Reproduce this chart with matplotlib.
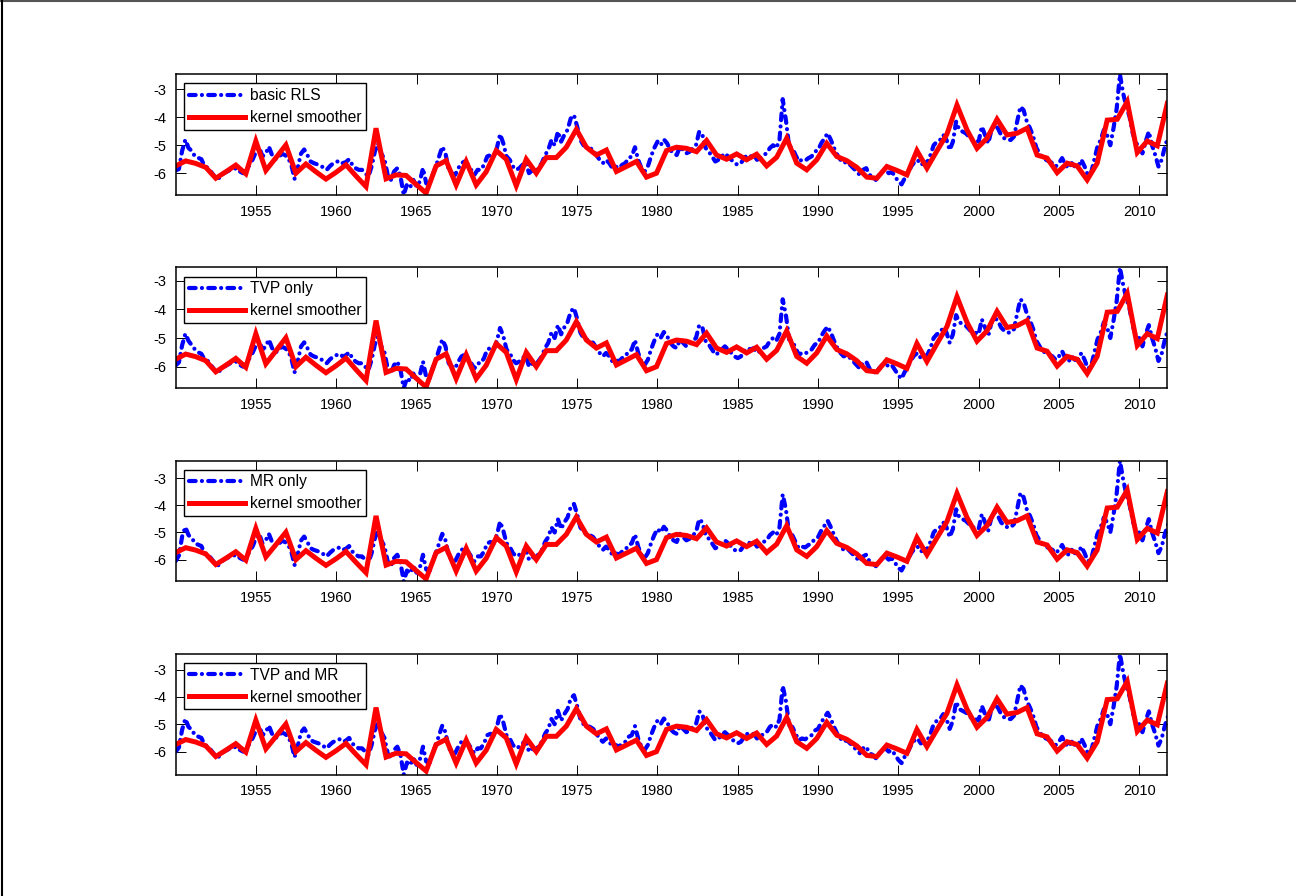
import numpy as np
import matplotlib
matplotlib.use("Agg")
import matplotlib.pyplot as plt
from matplotlib.lines import Line2D

plt.rcParams["font.family"] = ["Liberation Sans", "DejaVu Sans"]
plt.rcParams["axes.unicode_minus"] = False

# Kernel smoother: evaluated on an even grid from 1950.0 to 2011.75 (100 points)
smooth_start, smooth_end = 1950.0, 2011.75
smooth_vals = [
    -5.74, -5.56, -5.65, -5.79, -6.18, -5.95, -5.71, -6.02, -4.85, -5.90,
    -5.45, -4.99, -6.00, -5.67, -5.95, -6.21, -5.97, -5.70, -6.10, -6.48,
    -4.39, -6.20, -6.06, -6.08, -6.40, -6.71, -5.74, -5.55, -6.42, -5.58,
    -6.42, -5.95, -5.19, -5.50, -6.45, -5.50, -6.00, -5.44, -5.44, -5.07,
    -4.43, -5.07, -5.35, -5.17, -5.94, -5.76, -5.58, -6.14, -6.00, -5.19,
    -5.07, -5.11, -5.23, -4.83, -5.35, -5.50, -5.31, -5.52, -5.32, -5.74,
    -5.43, -4.75, -5.64, -5.88, -5.52, -4.93, -5.40, -5.55, -5.79, -6.14,
    -6.18, -5.76, -5.90, -6.06, -5.19, -5.82, -5.20, -4.60, -3.56, -4.45,
    -5.11, -4.75, -4.07, -4.63, -4.57, -4.39, -5.35, -5.46, -5.98, -5.64,
    -5.74, -6.24, -5.64, -4.10, -4.07, -3.44, -5.26, -4.85, -5.02, -3.50,
]

# Recursive estimates, sampled every 0.2 years from 1950.0 (one row = two years)
est_start, est_step = 1950.0, 0.2
basic_rls = [
    -5.90, -5.85, -5.20, -4.80, -5.10, -5.20, -5.40, -5.45, -5.50, -5.76,
    -5.80, -5.95, -6.10, -6.24, -6.10, -6.00, -5.94, -5.88, -5.85, -5.82,
    -5.94, -6.00, -5.90, -5.70, -5.50, -5.23, -5.07, -5.40, -5.30, -5.05,
    -5.35, -5.50, -5.45, -5.30, -5.35, -5.45, -5.70, -6.20, -5.80, -5.30,
    -5.15, -5.35, -5.58, -5.64, -5.68, -5.72, -5.80, -5.88, -5.75, -5.65,
    -5.60, -5.55, -5.64, -5.60, -5.50, -5.70, -5.82, -5.88, -5.88, -6.00,
    -6.12, -5.76, -5.23, -4.93, -5.29, -5.50, -6.06, -6.24, -5.94, -5.82,
    -6.12, -6.78, -6.40, -6.50, -6.24, -6.48, -6.30, -5.82, -6.36, -6.42,
    -6.06, -5.76, -5.40, -5.05, -5.29, -5.88, -6.00, -6.06, -5.82, -5.64,
    -5.58, -5.70, -5.88, -6.06, -5.88, -5.88, -5.70, -5.40, -5.35, -5.40,
    -5.10, -4.60, -4.93, -5.40, -5.52, -5.76, -5.88, -5.82, -5.70, -5.60,
    -6.00, -5.90, -5.94, -5.80, -5.64, -5.35, -5.17, -4.81, -5.00, -4.51,
    -4.87, -4.63, -4.45, -4.04, -3.92, -4.33, -4.81, -5.00, -5.05, -5.10,
    -5.17, -5.35, -5.52, -5.64, -5.52, -5.64, -5.82, -5.76, -5.82, -5.70,
    -5.64, -5.46, -5.40, -5.07, -5.52, -5.82, -5.94, -5.76, -5.40, -5.10,
    -4.87, -5.00, -4.79, -4.93, -5.17, -5.29, -5.35, -5.05, -5.17, -5.29,
    -5.23, -5.10, -5.00, -4.51, -4.63, -5.10, -5.23, -5.40, -5.58, -5.52,
    -5.40, -5.29, -5.40, -5.52, -5.64, -5.70, -5.64, -5.46, -5.35, -5.40,
    -5.35, -5.52, -5.46, -5.35, -5.29, -5.10, -5.00, -5.10, -4.81, -3.35,
    -4.10, -5.05, -5.10, -5.35, -5.58, -5.52, -5.55, -5.46, -5.40, -5.23,
    -5.17, -4.93, -4.75, -4.57, -4.81, -5.10, -5.35, -5.52, -5.64, -5.58,
    -5.70, -5.82, -5.94, -6.06, -5.88, -5.82, -6.06, -6.12, -6.24, -6.06,
    -5.94, -5.88, -6.00, -5.95, -6.12, -6.30, -6.40, -6.18, -6.00, -5.76,
    -5.60, -5.52, -5.70, -5.64, -5.60, -5.35, -5.00, -4.87, -4.81, -4.63,
    -4.81, -5.17, -4.87, -4.15, -4.45, -4.51, -4.57, -4.69, -4.81, -4.81,
    -4.87, -4.33, -4.63, -4.93, -4.45, -4.27, -4.39, -4.63, -4.75, -4.81,
    -4.81, -4.69, -4.15, -3.62, -3.74, -4.15, -4.39, -4.69, -5.10, -5.29,
    -5.46, -5.52, -5.58, -5.64, -5.76, -5.64, -5.46, -5.70, -5.82, -5.64,
    -5.76, -5.76, -5.52, -5.76, -6.06, -6.00, -5.52, -5.05, -4.81, -4.45,
    -4.63, -5.00, -4.39, -3.68, -2.46, -3.14, -3.62, -3.98, -4.57, -4.93,
    -5.00, -5.29, -4.87, -4.51, -5.00, -5.35, -5.76, -5.52, -5.05, -4.70,
]
tvp_only = [
    -5.95, -5.85, -5.25, -4.85, -5.10, -5.25, -5.40, -5.50, -5.55, -5.76,
    -5.80, -5.95, -6.10, -6.24, -6.10, -6.00, -5.94, -5.88, -5.85, -5.82,
    -5.94, -6.00, -5.90, -5.70, -5.50, -5.25, -5.10, -5.40, -5.30, -5.05,
    -5.35, -5.50, -5.45, -5.30, -5.35, -5.45, -5.70, -6.20, -5.80, -5.30,
    -5.15, -5.35, -5.58, -5.64, -5.68, -5.72, -5.80, -5.88, -5.75, -5.65,
    -5.60, -5.55, -5.64, -5.60, -5.50, -5.70, -5.82, -5.88, -5.88, -6.00,
    -6.12, -5.76, -5.23, -4.93, -5.29, -5.50, -6.06, -6.24, -5.94, -5.82,
    -6.12, -6.75, -6.40, -6.50, -6.24, -6.48, -6.30, -5.82, -6.36, -6.42,
    -6.06, -5.76, -5.40, -5.05, -5.29, -5.88, -6.00, -6.06, -5.82, -5.64,
    -5.58, -5.70, -5.88, -6.06, -5.88, -5.88, -5.70, -5.40, -5.35, -5.40,
    -5.10, -4.65, -4.93, -5.40, -5.52, -5.76, -5.88, -5.82, -5.70, -5.60,
    -6.00, -5.90, -5.94, -5.80, -5.64, -5.35, -5.17, -4.81, -5.00, -4.55,
    -4.87, -4.63, -4.45, -4.08, -3.95, -4.33, -4.81, -5.00, -5.05, -5.10,
    -5.17, -5.35, -5.52, -5.64, -5.52, -5.64, -5.82, -5.76, -5.82, -5.70,
    -5.64, -5.46, -5.40, -5.07, -5.52, -5.82, -5.94, -5.76, -5.40, -5.10,
    -4.87, -5.00, -4.79, -4.93, -5.17, -5.29, -5.35, -5.05, -5.17, -5.29,
    -5.23, -5.10, -5.00, -4.55, -4.63, -5.10, -5.23, -5.40, -5.58, -5.52,
    -5.40, -5.29, -5.40, -5.52, -5.64, -5.70, -5.64, -5.46, -5.35, -5.40,
    -5.35, -5.52, -5.46, -5.35, -5.29, -5.10, -5.00, -5.10, -4.85, -3.65,
    -4.20, -5.05, -5.10, -5.35, -5.58, -5.52, -5.55, -5.46, -5.40, -5.23,
    -5.17, -4.93, -4.75, -4.60, -4.81, -5.10, -5.35, -5.52, -5.64, -5.58,
    -5.70, -5.82, -5.94, -6.06, -5.88, -5.82, -6.06, -6.12, -6.24, -6.06,
    -5.94, -5.88, -6.00, -5.95, -6.12, -6.30, -6.42, -6.18, -6.00, -5.76,
    -5.60, -5.52, -5.70, -5.64, -5.60, -5.35, -5.00, -4.87, -4.81, -4.63,
    -4.81, -5.17, -4.87, -4.20, -4.45, -4.51, -4.57, -4.69, -4.81, -4.81,
    -4.87, -4.35, -4.63, -4.93, -4.45, -4.30, -4.39, -4.63, -4.75, -4.81,
    -4.81, -4.69, -4.15, -3.65, -3.76, -4.15, -4.39, -4.69, -5.10, -5.29,
    -5.46, -5.52, -5.58, -5.64, -5.76, -5.64, -5.46, -5.70, -5.82, -5.64,
    -5.76, -5.76, -5.52, -5.76, -6.06, -6.00, -5.52, -5.05, -4.81, -4.45,
    -4.63, -5.00, -4.40, -3.70, -2.54, -3.14, -3.62, -3.98, -4.57, -4.93,
    -5.00, -5.29, -4.87, -4.55, -5.00, -5.35, -5.80, -5.55, -5.05, -4.70,
]
mr_only = [
    -6.05, -5.85, -5.15, -4.80, -5.10, -5.20, -5.40, -5.45, -5.50, -5.76,
    -5.80, -5.95, -6.10, -6.24, -6.10, -6.00, -5.94, -5.88, -5.85, -5.82,
    -5.94, -6.00, -5.90, -5.70, -5.50, -5.20, -5.05, -5.40, -5.30, -5.05,
    -5.35, -5.50, -5.45, -5.30, -5.35, -5.45, -5.70, -6.20, -5.80, -5.30,
    -5.15, -5.35, -5.58, -5.64, -5.68, -5.72, -5.80, -5.88, -5.75, -5.65,
    -5.60, -5.55, -5.64, -5.60, -5.50, -5.70, -5.82, -5.88, -5.88, -6.00,
    -6.12, -5.76, -5.23, -4.90, -5.29, -5.50, -6.06, -6.24, -5.94, -5.82,
    -6.12, -6.80, -6.40, -6.50, -6.24, -6.48, -6.30, -5.82, -6.36, -6.42,
    -6.06, -5.76, -5.40, -5.05, -5.29, -5.88, -6.00, -6.06, -5.82, -5.64,
    -5.58, -5.70, -5.88, -6.06, -5.88, -5.88, -5.70, -5.40, -5.35, -5.40,
    -5.10, -4.60, -4.93, -5.40, -5.52, -5.76, -5.88, -5.82, -5.70, -5.60,
    -6.00, -5.90, -5.94, -5.80, -5.64, -5.35, -5.17, -4.81, -5.00, -4.51,
    -4.87, -4.63, -4.45, -4.06, -3.95, -4.33, -4.81, -5.00, -5.05, -5.10,
    -5.17, -5.35, -5.52, -5.64, -5.52, -5.64, -5.82, -5.76, -5.82, -5.70,
    -5.64, -5.46, -5.40, -5.07, -5.52, -5.82, -5.94, -5.76, -5.40, -5.10,
    -4.87, -5.00, -4.79, -4.93, -5.17, -5.29, -5.35, -5.05, -5.17, -5.29,
    -5.23, -5.10, -5.00, -4.51, -4.63, -5.10, -5.23, -5.40, -5.58, -5.52,
    -5.40, -5.29, -5.40, -5.52, -5.64, -5.70, -5.64, -5.46, -5.35, -5.40,
    -5.35, -5.52, -5.46, -5.35, -5.29, -5.10, -5.00, -5.10, -4.81, -3.60,
    -4.15, -5.05, -5.10, -5.35, -5.58, -5.52, -5.55, -5.46, -5.40, -5.23,
    -5.17, -4.93, -4.75, -4.57, -4.81, -5.10, -5.35, -5.52, -5.64, -5.58,
    -5.70, -5.82, -5.94, -6.06, -5.88, -5.82, -6.06, -6.12, -6.24, -6.06,
    -5.94, -5.88, -6.00, -5.95, -6.12, -6.30, -6.40, -6.18, -6.00, -5.76,
    -5.60, -5.52, -5.70, -5.64, -5.60, -5.35, -5.00, -4.87, -4.81, -4.63,
    -4.81, -5.17, -4.87, -4.15, -4.45, -4.51, -4.57, -4.69, -4.81, -4.81,
    -4.87, -4.33, -4.63, -4.93, -4.45, -4.27, -4.39, -4.63, -4.75, -4.81,
    -4.81, -4.69, -4.15, -3.55, -3.70, -4.15, -4.39, -4.69, -5.10, -5.29,
    -5.46, -5.52, -5.58, -5.64, -5.76, -5.64, -5.46, -5.70, -5.82, -5.64,
    -5.76, -5.76, -5.52, -5.76, -6.06, -6.00, -5.52, -5.05, -4.81, -4.45,
    -4.63, -5.00, -4.35, -3.55, -2.36, -3.05, -3.60, -3.98, -4.57, -4.93,
    -5.00, -5.29, -4.87, -4.51, -5.00, -5.35, -5.76, -5.52, -5.05, -4.70,
]
tvp_and_mr = [
    -6.00, -5.85, -5.20, -4.80, -5.10, -5.20, -5.40, -5.45, -5.50, -5.76,
    -5.80, -5.95, -6.10, -6.24, -6.10, -6.00, -5.94, -5.88, -5.85, -5.82,
    -5.94, -6.00, -5.90, -5.70, -5.50, -5.23, -5.07, -5.40, -5.30, -5.05,
    -5.35, -5.50, -5.45, -5.30, -5.35, -5.45, -5.70, -6.20, -5.80, -5.30,
    -5.15, -5.35, -5.58, -5.64, -5.68, -5.72, -5.80, -5.88, -5.75, -5.65,
    -5.60, -5.55, -5.64, -5.60, -5.50, -5.70, -5.82, -5.88, -5.88, -6.00,
    -6.12, -5.76, -5.23, -4.93, -5.29, -5.50, -6.06, -6.24, -5.94, -5.82,
    -6.12, -6.84, -6.40, -6.50, -6.24, -6.48, -6.30, -5.82, -6.36, -6.42,
    -6.06, -5.76, -5.40, -5.05, -5.29, -5.88, -6.00, -6.06, -5.82, -5.64,
    -5.58, -5.70, -5.88, -6.06, -5.88, -5.88, -5.70, -5.40, -5.35, -5.40,
    -5.10, -4.62, -4.93, -5.40, -5.52, -5.76, -5.88, -5.82, -5.70, -5.60,
    -6.00, -5.90, -5.94, -5.80, -5.64, -5.35, -5.17, -4.81, -5.00, -4.51,
    -4.87, -4.63, -4.45, -4.06, -3.94, -4.33, -4.81, -5.00, -5.05, -5.10,
    -5.17, -5.35, -5.52, -5.64, -5.52, -5.64, -5.82, -5.76, -5.82, -5.70,
    -5.64, -5.46, -5.40, -5.07, -5.52, -5.82, -5.94, -5.76, -5.40, -5.10,
    -4.87, -5.00, -4.79, -4.93, -5.17, -5.29, -5.35, -5.05, -5.17, -5.29,
    -5.23, -5.10, -5.00, -4.53, -4.63, -5.10, -5.23, -5.40, -5.58, -5.52,
    -5.40, -5.29, -5.40, -5.52, -5.64, -5.70, -5.64, -5.46, -5.35, -5.40,
    -5.35, -5.52, -5.46, -5.35, -5.29, -5.10, -5.00, -5.10, -4.83, -3.60,
    -4.15, -5.05, -5.10, -5.35, -5.58, -5.52, -5.55, -5.46, -5.40, -5.23,
    -5.17, -4.93, -4.75, -4.58, -4.81, -5.10, -5.35, -5.52, -5.64, -5.58,
    -5.70, -5.82, -5.94, -6.06, -5.88, -5.82, -6.06, -6.12, -6.24, -6.06,
    -5.94, -5.88, -6.00, -5.95, -6.12, -6.30, -6.42, -6.18, -6.00, -5.76,
    -5.60, -5.52, -5.70, -5.64, -5.60, -5.35, -5.00, -4.87, -4.81, -4.63,
    -4.81, -5.17, -4.87, -4.18, -4.45, -4.51, -4.57, -4.69, -4.81, -4.81,
    -4.87, -4.33, -4.63, -4.93, -4.45, -4.28, -4.39, -4.63, -4.75, -4.81,
    -4.81, -4.69, -4.15, -3.58, -3.72, -4.15, -4.39, -4.69, -5.10, -5.29,
    -5.46, -5.52, -5.58, -5.64, -5.76, -5.64, -5.46, -5.70, -5.82, -5.64,
    -5.76, -5.76, -5.52, -5.76, -6.06, -6.00, -5.52, -5.05, -4.81, -4.45,
    -4.63, -5.00, -4.37, -3.60, -2.43, -3.10, -3.62, -3.98, -4.57, -4.93,
    -5.00, -5.29, -4.87, -4.53, -5.00, -5.35, -5.78, -5.52, -5.05, -4.70,
]

panel_labels = ["basic RLS", "TVP only", "MR only", "TVP and MR"]
panel_series = [basic_rls, tvp_only, mr_only, tvp_and_mr]
smooth_label = "kernel smoother"

xticks = [1955, 1960, 1965, 1970, 1975, 1980, 1985, 1990, 1995, 2000, 2005, 2010]
yticks = [-6, -5, -4, -3]

W, H = 1296, 896
fig = plt.figure(figsize=(W / 100, H / 100), dpi=100)

# figure frame (top and left edges)
fig.add_artist(Line2D([0, 1], [1 - 1.0 / H, 1 - 1.0 / H], transform=fig.transFigure,
                      color="#555555", lw=1.5))
fig.add_artist(Line2D([1.5 / W, 1.5 / W], [0, 1], transform=fig.transFigure,
                      color="black", lw=1.5))

ax_left, ax_right = 175.7, 1167.3
ax_h = 120.7
first_top = 74.3
gap = 193.2

t_smooth = np.linspace(smooth_start, smooth_end, len(smooth_vals))

for k, (label, series) in enumerate(zip(panel_labels, panel_series)):
    top = first_top + k * gap
    ax = fig.add_axes([ax_left / W, 1 - (top + ax_h) / H,
                       (ax_right - ax_left) / W, ax_h / H])
    t_est = est_start + est_step * np.arange(len(series))
    ax.plot(t_est, series, color=(0, 0, 1), lw=3.0,
            linestyle=(0, (1.6, 1.5, 0.01, 1.5)),
            dash_capstyle="round", solid_capstyle="round", label=label)
    ax.plot(t_smooth, smooth_vals, color=(1, 0, 0), lw=3.6,
            solid_joinstyle="miter", label=smooth_label)
    ax.set_xlim(smooth_start, smooth_end)
    lo = min(min(series), min(smooth_vals))
    hi = max(max(series), max(smooth_vals))
    ax.set_ylim(lo, hi)
    ax.set_xticks(xticks)
    ax.set_yticks(yticks)
    ax.set_yticklabels([str(v) for v in yticks])
    ax.tick_params(direction="in", length=7, width=0.7, top=True, right=True,
                   labelsize=10.5, pad=7, colors="black")
    for sp in ax.spines.values():
        sp.set_linewidth(1.1)
        sp.set_color("black")
    leg = ax.legend(loc="upper left", bbox_to_anchor=(0.0084, 0.925),
                    borderaxespad=0, fontsize=11.2, frameon=True, fancybox=False,
                    framealpha=1, edgecolor="black", handlelength=3.6,
                    handletextpad=0.35, borderpad=0.3, labelspacing=0.45)
    leg.get_frame().set_linewidth(1.0)

fig.savefig("out.png", dpi=100)
